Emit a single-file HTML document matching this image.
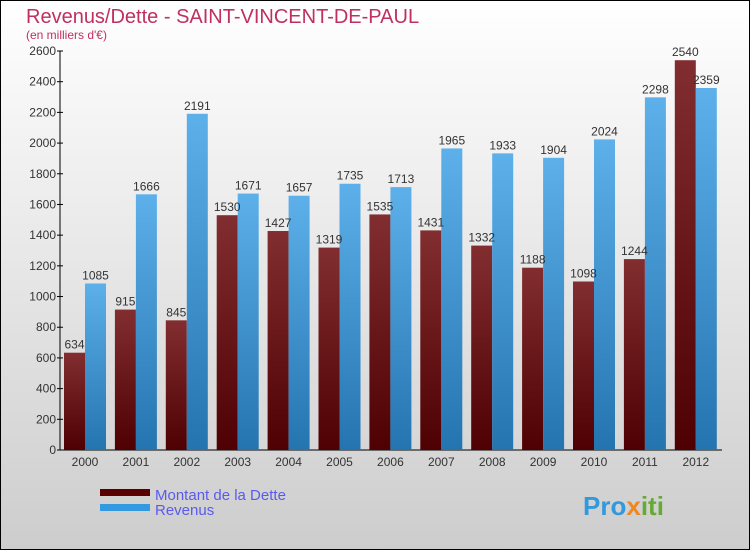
<!DOCTYPE html>
<html><head><meta charset="utf-8"><style>
body{margin:0;width:750px;height:550px;overflow:hidden;font-family:"Liberation Sans",sans-serif}
svg{display:block}
</style></head><body>
<svg width="750" height="550">
<defs>
<linearGradient id="bg" x1="0" y1="0" x2="0" y2="1"><stop offset="0" stop-color="#ffffff"/><stop offset="1" stop-color="#cdcdcd"/></linearGradient>
<linearGradient id="gd" x1="0" y1="0" x2="0" y2="1"><stop offset="0" stop-color="#822e30"/><stop offset="1" stop-color="#4e0002"/></linearGradient>
<linearGradient id="gr" x1="0" y1="0" x2="0" y2="1"><stop offset="0" stop-color="#5db0ea"/><stop offset="1" stop-color="#2474b0"/></linearGradient>
</defs>
<rect x="0.5" y="0.5" width="749" height="549" fill="url(#bg)" stroke="#000"/>
<text x="26" y="23" font-size="20" fill="#c0305f">Revenus/Dette - SAINT-VINCENT-DE-PAUL</text>
<text x="26" y="39" font-size="12" fill="#c0305f">(en milliers d'€)</text>
<g id="axes"></g>
<g id="bars"></g>
<g>
<rect x="100" y="489" width="50" height="7" fill="#5a0000"/>
<text x="155" y="500" font-size="15" fill="#5a5aee">Montant de la Dette</text>
<rect x="100" y="504" width="50" height="7" fill="#3399e0"/>
<text x="155" y="515" font-size="15" fill="#5a5aee">Revenus</text>
</g>
<text x="583" y="515" font-size="26" font-weight="bold" fill="#3399dd">Pro<tspan fill="#ee8822">x</tspan><tspan fill="#66aa33">iti</tspan></text>
</svg>
<script>
const years=["2000","2001","2002","2003","2004","2005","2006","2007","2008","2009","2010","2011","2012"];
const dette=[634,915,845,1530,1427,1319,1535,1431,1332,1188,1098,1244,2540];
const revenus=[1085,1666,2191,1671,1657,1735,1713,1965,1933,1904,2024,2298,2359];
const ticks=[0,200,400,600,800,1000,1200,1400,1600,1800,2000,2200,2400,2600];
const NS="http://www.w3.org/2000/svg";
const y0=450,yTop=51,maxV=2600,x0=60,step=50.9,first=85,bw=21;
const Y=v=>y0-(v/maxV)*(y0-yTop);
const X=i=>first+i*step;
function mk(t,a,p){const e=document.createElementNS(NS,t);for(const k in a)e.setAttribute(k,a[k]);p.appendChild(e);return e;}
const ax=document.getElementById('axes'),bg=document.getElementById('bars');
const yl=mk('line',{x1:x0,y1:yTop,x2:x0,y2:y0,stroke:'#000'},ax);


const xl=mk('line',{x1:x0,y1:y0,x2:722,y2:y0,stroke:'#000'},ax);


ticks.forEach(t=>{
 mk('line',{x1:x0-3,x2:x0+3,y1:Y(t),y2:Y(t),stroke:'#000'},ax);
 const tx=mk('text',{x:x0-4,y:Y(t)+4,'font-size':12,'text-anchor':'end',fill:'#333'},ax);
 tx.textContent=t;
 
 
});
years.forEach((yr,i)=>{
 const c=X(i);
 const d=mk('rect',{x:c-bw,y:Y(dette[i]),width:bw,height:y0-Y(dette[i]),fill:'url(#gd)'},bg);
 
 
 const r=mk('rect',{x:c,y:Y(revenus[i]),width:bw,height:y0-Y(revenus[i]),fill:'url(#gr)'},bg);
 
 
 const t1=mk('text',{x:c-bw/2,y:Y(dette[i])-4,'font-size':12,'text-anchor':'middle',fill:'#333'},bg);
 t1.textContent=dette[i];
 
 
 const t2=mk('text',{x:c+bw/2,y:Y(revenus[i])-4,'font-size':12,'text-anchor':'middle',fill:'#333'},bg);
 t2.textContent=revenus[i];
 
 
 const xt=mk('text',{x:c,y:y0+16,'font-size':12,'text-anchor':'middle',fill:'#333'},bg);
 xt.textContent=yr;
 
 
});
</script>
</body></html>
